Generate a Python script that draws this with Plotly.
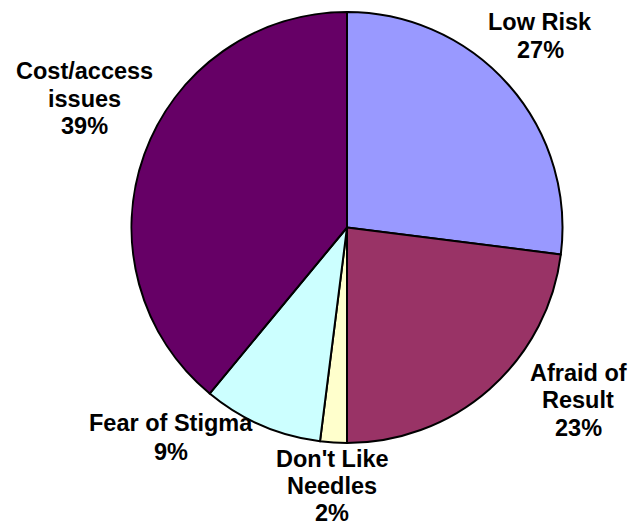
import plotly.graph_objects as go

# ---- data ----
categories = ["Low Risk", "Afraid of Result", "Don't Like Needles", "Fear of Stigma", "Cost/access issues"]
label_lines = ["Low Risk", "Afraid of<br>Result", "Don't Like<br>Needles", "Fear of Stigma", "Cost/access<br>issues"]
values = [27, 23, 2, 9, 39]

# ---- style ----
colors = ["#9999FF", "#993366", "#FFFFCC", "#CCFFFF", "#660066"]
# label block centres in pixel coordinates of the 630x529 canvas, and line heights
label_px = [(540, 36), (578, 400), (332, 486), (171, 437.5), (84, 98.5)]
line_h = [28, 27.5, 27, 28.5, 28]
FONT = dict(family="Arial, Liberation Sans, sans-serif", size=23.5, color="black")

W, H = 630, 529
cx, cy, r = 347, 227.5, 215.5

fig = go.Figure(go.Pie(
    labels=categories,
    values=values,
    sort=False,
    direction="clockwise",
    rotation=0,
    marker=dict(colors=colors, line=dict(color="black", width=2)),
    textinfo="none",
    hoverinfo="label+percent",
    showlegend=False,
    domain=dict(x=[(cx - r) / W, (cx + r) / W], y=[(H - (cy + r)) / H, (H - (cy - r)) / H]),
))

total = sum(values)
for txt, v, (px, py), lh in zip(label_lines, values, label_px, line_h):
    lines = txt.split("<br>") + [f"{round(v / total * 100)}%"]
    n = len(lines)
    for k, line in enumerate(lines):
        ly = py + (k - (n - 1) / 2) * lh
        fig.add_annotation(
            x=px / W, y=1 - ly / H, xref="paper", yref="paper",
            xanchor="center", yanchor="middle", showarrow=False,
            text=f"<b>{line}</b>", font=FONT, align="center",
        )

fig.update_layout(
    width=W, height=H,
    margin=dict(l=0, r=0, t=0, b=0),
    paper_bgcolor="white", plot_bgcolor="white",
)

fig.write_html("out.html", config={"displayModeBar": False},
               post_script="document.body.style.margin='0';")
